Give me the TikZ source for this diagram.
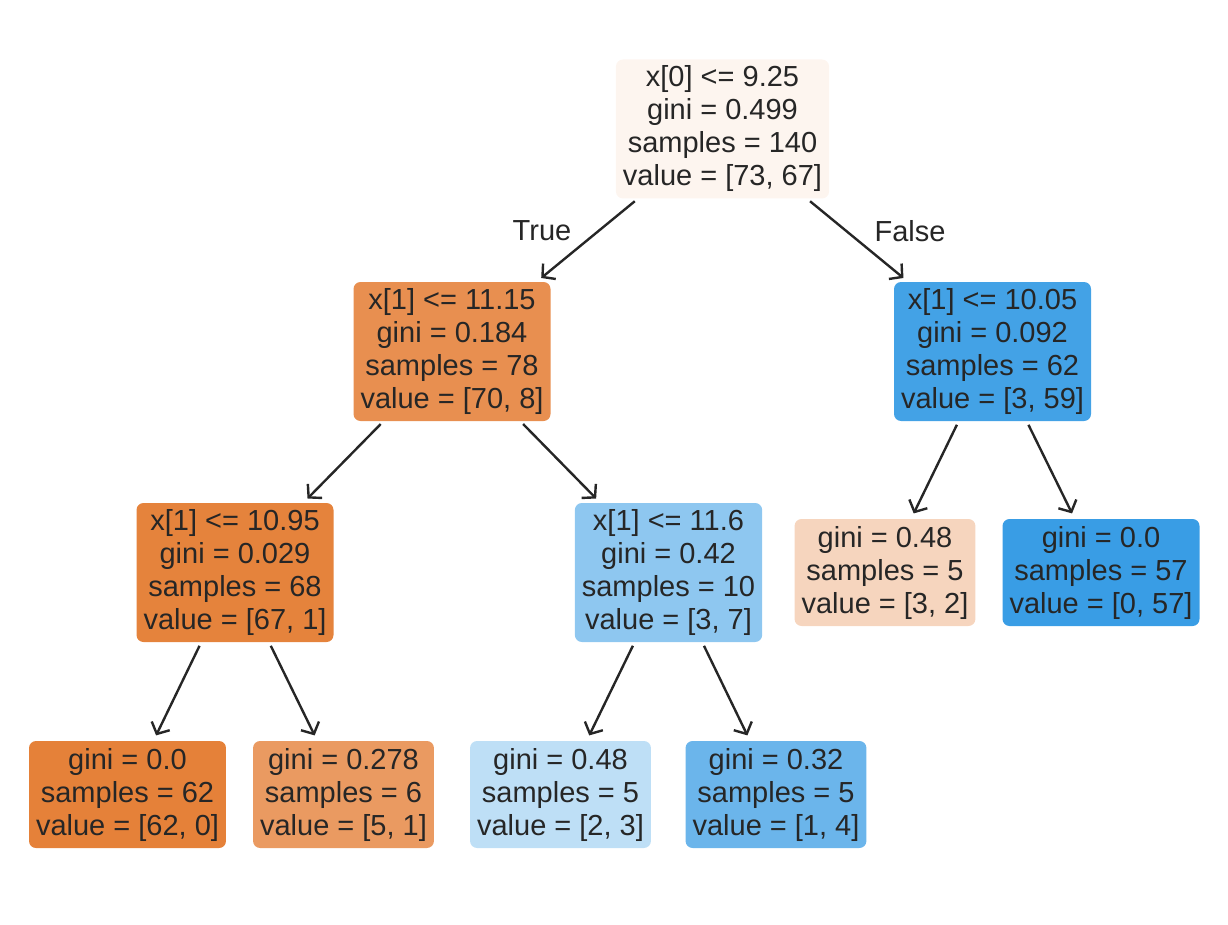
\documentclass[tikz,border=0pt]{standalone}
\usepackage{fontspec}
\setmainfont{Liberation Sans}
\usepackage{tikz}
\usetikzlibrary{arrows.meta}
\definecolor{inkc}{RGB}{38,38,38}
\definecolor{orangec}{RGB}{229,129,57}
\definecolor{bluec}{RGB}{57,157,229}
\tikzset{
  tnode/.style={rectangle, rounded corners=7pt, inner xsep=7pt, inner ysep=0pt,
    align=center, text=inkc, font=\fontsize{29}{33}\selectfont},
  split/.style={tnode, minimum height=139pt},
  leaf/.style={tnode, minimum height=107pt},
  edge/.style={draw=inkc, line width=2.4pt, shorten <=4pt, shorten >=6pt,
    -{Straight Barb[length=9pt,width=20pt,line width=2.4pt]}},
  elabel/.style={text=inkc, font=\fontsize{29}{33}\selectfont}
}
\begin{document}
\begin{tikzpicture}[x=1pt,y=-1pt]
    \useasboundingbox (0,0) rectangle (1228,925);
    % inner nodes
    \node[split, fill=orangec!8!white] (root) at (722.5,129) {x[0] <= 9.25\\gini = 0.499\\samples = 140\\value = [73, 67]};
    \node[split, fill=orangec!88.6!white] (n1) at (452,351.5) {x[1] <= 11.15\\gini = 0.184\\samples = 78\\value = [70, 8]};
    \node[split, fill=bluec!95!white] (n2) at (992.5,351.5) {x[1] <= 10.05\\gini = 0.092\\samples = 62\\value = [3, 59]};
    \node[split, fill=orangec!98.5!white] (n3) at (235,572.5) {x[1] <= 10.95\\gini = 0.029\\samples = 68\\value = [67, 1]};
    \node[split, fill=bluec!57!white] (n4) at (668.5,572.5) {x[1] <= 11.6\\gini = 0.42\\samples = 10\\value = [3, 7]};
    % leaves
    \node[leaf, fill=orangec!33!white] (n5) at (885,572.5) {gini = 0.48\\samples = 5\\value = [3, 2]};
    \node[leaf, fill=bluec] (n6) at (1101,572.5) {gini = 0.0\\samples = 57\\value = [0, 57]};
    \node[leaf, fill=orangec] (l1) at (127.5,794.5) {gini = 0.0\\samples = 62\\value = [62, 0]};
    \node[leaf, fill=orangec!80!white] (l2) at (343.5,794.5) {gini = 0.278\\samples = 6\\value = [5, 1]};
    \node[leaf, fill=bluec!33!white] (l3) at (560.5,794.5) {gini = 0.48\\samples = 5\\value = [2, 3]};
    \node[leaf, fill=bluec!75!white] (l4) at (776,794.5) {gini = 0.32\\samples = 5\\value = [1, 4]};
    % edges
    \draw[edge] (root) -- (n1);
    \draw[edge] (root) -- (n2);
    \draw[edge] (n1) -- (n3);
    \draw[edge] (n1) -- (n4);
    \draw[edge] (n2) -- (n5);
    \draw[edge] (n2) -- (n6);
    \draw[edge] (n3) -- (l1);
    \draw[edge] (n3) -- (l2);
    \draw[edge] (n4) -- (l3);
    \draw[edge] (n4) -- (l4);
    \node[elabel] (truelab) at (542,231) {True};
    \node[elabel] (falselab) at (910,231) {False};
\end{tikzpicture}
\end{document}
